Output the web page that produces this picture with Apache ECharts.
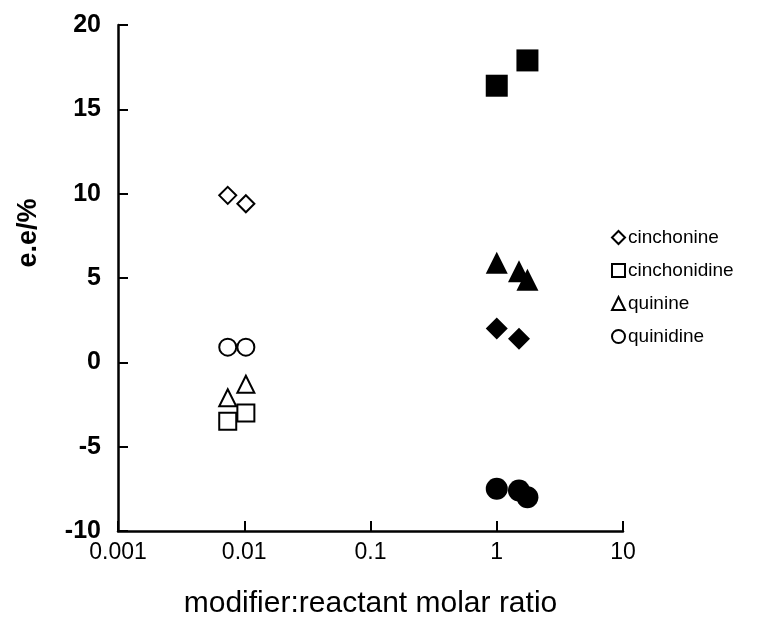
<!DOCTYPE html>
<html>
<head>
<meta charset="utf-8">
<script src="https://cdn.jsdelivr.net/npm/echarts@6/dist/echarts.min.js"></script>
<style>
  html, body { margin: 0; padding: 0; background: #fff; }
  #chart { width: 765px; height: 630px; }
</style>
</head>
<body>
<div id="chart"></div>
<script>
// Modifier names and their marker shapes
const compounds = ['cinchonine', 'cinchonidine', 'quinine', 'quinidine'];
const symbols = ['diamond', 'rect', 'triangle', 'circle'];

// [modifier:reactant molar ratio, e.e. %] at low modifier loading (open markers)
const cinchonineLow = [[0.0074, 9.9], [0.0103, 9.4]];
const cinchonidineLow = [[0.0074, -3.5], [0.0103, -3.0]];
const quinineLow = [[0.0074, -2.1], [0.0103, -1.3]];
const quinidineLow = [[0.0074, 0.9], [0.0103, 0.9]];

// [modifier:reactant molar ratio, e.e. %] at high modifier loading (filled markers)
const cinchonineHigh = [[1.0, 2.0], [1.5, 1.4]];
const cinchonidineHigh = [[1.0, 16.4], [1.75, 17.9]];
const quinineHigh = [[1.0, 5.9], [1.5, 5.4], [1.75, 4.9]];
const quinidineHigh = [[1.0, -7.5], [1.5, -7.6], [1.75, -8.0]];

// Axis tick labels
const xTickLabels = ['0.001', '0.01', '0.1', '1', '10'];
const yTickLabels = ['-10', '-5', '0', '5', '10', '15', '20'];

const lowSets = [cinchonineLow, cinchonidineLow, quinineLow, quinidineLow];
const highSets = [cinchonineHigh, cinchonidineHigh, quinineHigh, quinidineHigh];

const FONT = '"Liberation Sans", Arial, Helvetica, sans-serif';

const series = [];
compounds.forEach((name, i) => {
  series.push({
    name: name,
    type: 'scatter',
    symbol: symbols[i],
    symbolSize: 17,
    data: lowSets[i],
    itemStyle: { color: '#fff', borderColor: '#000', borderWidth: 2, opacity: 1 },
    z: 3
  });
});
compounds.forEach((name, i) => {
  series.push({
    name: name + ' (high loading)',
    type: 'scatter',
    symbol: symbols[i],
    symbolSize: 22,
    data: highSets[i],
    itemStyle: { color: '#000', opacity: 1 },
    z: 3
  });
});

const axisCommon = {
  axisLine: { show: true, onZero: false, lineStyle: { color: '#000', width: 2.5 } },
  axisTick: { show: true, inside: true, length: 10, lineStyle: { color: '#000', width: 2 } },
  splitLine: { show: false },
  minorTick: { show: false }
};

const chart = echarts.init(document.getElementById('chart'), null, { renderer: 'canvas' });
chart.setOption({
  animation: false,
  backgroundColor: '#fff',
  textStyle: { fontFamily: FONT },
  grid: { left: 118, right: 142, top: 25, bottom: 99, containLabel: false },
  legend: {
    orient: 'vertical',
    left: 611,
    top: 228,
    itemGap: 14,
    itemWidth: 13,
    itemHeight: 13,
    padding: 0,
    data: compounds,
    textStyle: { fontFamily: FONT, fontSize: 19, color: '#000', padding: [0, 0, 0, -2] },
    selectedMode: false
  },
  xAxis: Object.assign({
    type: 'log',
    logBase: 10,
    min: 0.001,
    max: 10,
    name: 'modifier:reactant molar ratio',
    nameLocation: 'middle',
    nameGap: 58,
    nameTextStyle: { fontFamily: FONT, fontSize: 30, color: '#000' },
    axisLabel: {
      fontFamily: FONT, fontSize: 23, color: '#000', margin: 10,
      formatter: (v, idx) => xTickLabels[idx]
    }
  }, axisCommon),
  yAxis: Object.assign({
    type: 'value',
    min: -10,
    max: 20,
    interval: 5,
    name: 'e.e/%',
    nameLocation: 'middle',
    nameGap: 76,
    nameTextStyle: {
      fontFamily: FONT, fontSize: 27, fontWeight: 'bold', color: '#000',
      padding: [0, 0, 0, 90]
    },
    axisLabel: {
      fontFamily: FONT, fontSize: 25, fontWeight: 'bold', color: '#000', margin: 17,
      formatter: (v, idx) => yTickLabels[idx]
    }
  }, axisCommon),
  series: series
});
</script>
</body>
</html>
